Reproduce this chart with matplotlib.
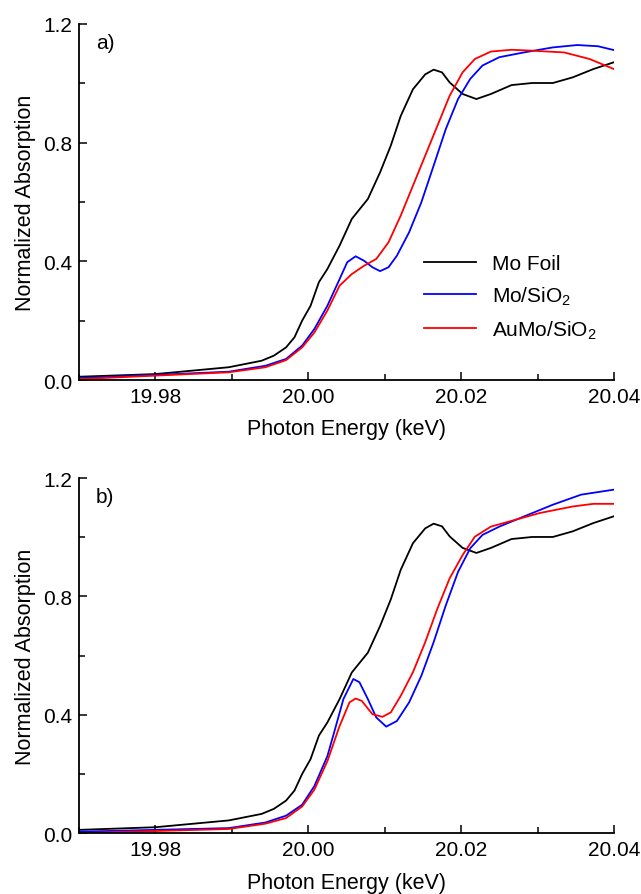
import matplotlib.pyplot as plt
from matplotlib.ticker import MultipleLocator

plt.rcParams['font.family'] = ['Liberation Sans', 'DejaVu Sans']
plt.rcParams['mathtext.fontset'] = 'custom'
plt.rcParams['mathtext.rm'] = 'Liberation Sans'
plt.rcParams['mathtext.it'] = 'Liberation Sans'

# Mo K-edge XANES (energy in keV)
foil_e = [19.970, 19.980, 19.9896, 19.9939, 19.9955, 19.9971, 19.9982, 19.9992, 20.0003,
          20.0014, 20.0025, 20.0041, 20.0057, 20.0078, 20.0094, 20.0108, 20.0121, 20.0137,
          20.0153, 20.0164, 20.0175, 20.0185, 20.0202, 20.0220, 20.0239, 20.0266, 20.0293,
          20.0320, 20.0346, 20.0373, 20.0400]
foil_mu = [0.011, 0.020, 0.043, 0.065, 0.082, 0.110, 0.144, 0.200, 0.250,
           0.330, 0.374, 0.453, 0.543, 0.610, 0.700, 0.790, 0.890, 0.980,
           1.030, 1.046, 1.037, 1.003, 0.964, 0.947, 0.964, 0.994, 1.001,
           1.001, 1.020, 1.048, 1.071]

# a) fresh catalysts
mo_a_e = [19.970, 19.9896, 19.9944, 19.9971, 19.9992, 20.0008, 20.0025, 20.0041, 20.0051,
          20.0062, 20.0073, 20.0084, 20.0094, 20.0105, 20.0116, 20.0132, 20.0148, 20.0164,
          20.0180, 20.0196, 20.0212, 20.0228, 20.0250, 20.0282, 20.0320, 20.0352, 20.0379,
          20.0400]
mo_a_mu = [0.006, 0.028, 0.048, 0.071, 0.116, 0.172, 0.250, 0.340, 0.397,
           0.417, 0.402, 0.380, 0.367, 0.380, 0.419, 0.498, 0.599, 0.722,
           0.846, 0.947, 1.015, 1.060, 1.088, 1.104, 1.121, 1.129, 1.125,
           1.112]
aumo_a_e = [19.970, 19.9896, 19.9944, 19.9971, 19.9992, 20.0008, 20.0025, 20.0041, 20.0057,
            20.0073, 20.0089, 20.0105, 20.0121, 20.0137, 20.0153, 20.0169, 20.0185, 20.0202,
            20.0218, 20.0239, 20.0266, 20.0293, 20.0335, 20.0368, 20.0400]
aumo_a_mu = [0.003, 0.026, 0.043, 0.067, 0.110, 0.160, 0.234, 0.318, 0.357,
             0.385, 0.408, 0.464, 0.554, 0.655, 0.756, 0.857, 0.958, 1.037,
             1.082, 1.107, 1.113, 1.110, 1.104, 1.082, 1.048]

# b) used catalysts
mo_b_e = [19.970, 19.9896, 19.9944, 19.9971, 19.9992, 20.0008, 20.0025, 20.0035, 20.0046,
          20.0059, 20.0067, 20.0078, 20.0089, 20.0102, 20.0116, 20.0132, 20.0148, 20.0164,
          20.0180, 20.0196, 20.0212, 20.0228, 20.0250, 20.0282, 20.0320, 20.0357, 20.0400]
mo_b_mu = [0.005, 0.017, 0.036, 0.059, 0.096, 0.159, 0.260, 0.351, 0.453,
           0.521, 0.510, 0.453, 0.391, 0.360, 0.379, 0.442, 0.532, 0.645,
           0.770, 0.883, 0.963, 1.008, 1.036, 1.070, 1.110, 1.144, 1.161]
aumo_b_e = [19.970, 19.9896, 19.9944, 19.9971, 19.9992, 20.0008, 20.0025, 20.0041, 20.0054,
            20.0062, 20.0070, 20.0084, 20.0097, 20.0108, 20.0121, 20.0137, 20.0153, 20.0169,
            20.0185, 20.0202, 20.0218, 20.0239, 20.0271, 20.0303, 20.0346, 20.0373, 20.0400]
aumo_b_mu = [0.000, 0.014, 0.032, 0.051, 0.090, 0.147, 0.243, 0.362, 0.442,
             0.455, 0.447, 0.402, 0.393, 0.408, 0.464, 0.544, 0.645, 0.759,
             0.861, 0.940, 1.002, 1.036, 1.059, 1.082, 1.104, 1.113, 1.113]

labels = ['Mo Foil', 'Mo/SiO$_2$', 'AuMo/SiO$_2$']

fig = plt.figure(figsize=(6.41, 8.95), dpi=100)
ax1 = fig.add_axes([0.1232, 0.5743, 0.8346, 0.3978])
ax2 = fig.add_axes([0.1232, 0.0680, 0.8346, 0.3967])

panels = [
    (ax1, 'a)', mo_a_e, mo_a_mu, aumo_a_e, aumo_a_mu),
    (ax2, 'b)', mo_b_e, mo_b_mu, aumo_b_e, aumo_b_mu),
]

for ax, tag, me, mmu, ae, amu in panels:
    ax.plot(foil_e, foil_mu, color='black', lw=1.3, label=labels[0])
    ax.plot(me, mmu, color='#0000ff', lw=1.3, label=labels[1])
    ax.plot(ae, amu, color='#ff0000', lw=1.3, label=labels[2])

    ax.set_xlim(19.97, 20.04)
    ax.set_ylim(0, 1.2)
    ax.xaxis.set_major_locator(MultipleLocator(0.02))
    ax.xaxis.set_minor_locator(MultipleLocator(0.01))
    ax.yaxis.set_major_locator(MultipleLocator(0.4))
    ax.yaxis.set_minor_locator(MultipleLocator(0.2))
    ax.xaxis.set_major_formatter(plt.FormatStrFormatter('%.2f'))
    ax.yaxis.set_major_formatter(plt.FormatStrFormatter('%.1f'))
    ax.tick_params(which='major', direction='in', length=6, width=1.1, labelsize=15, pad=5)
    ax.tick_params(which='minor', direction='in', length=4.3, width=1.1)
    for s in ('top', 'right'):
        ax.spines[s].set_visible(False)
    for s in ('left', 'bottom'):
        ax.spines[s].set_linewidth(1.3)
    ax.set_xlabel('Photon Energy (keV)', fontsize=15.5, labelpad=9)
    ax.set_ylabel('Normalized Absorption', fontsize=15.5, labelpad=5)
    ax.text(0.032, 0.975, tag, transform=ax.transAxes, fontsize=15, va='top', ha='left')

ax1.legend(loc='upper left', bbox_to_anchor=(0.645, 0.353), frameon=False, fontsize=15,
           handlelength=2.5, handletextpad=0.75, labelspacing=0.55,
           borderpad=0, borderaxespad=0)

fig.savefig('out.png', dpi=100)
